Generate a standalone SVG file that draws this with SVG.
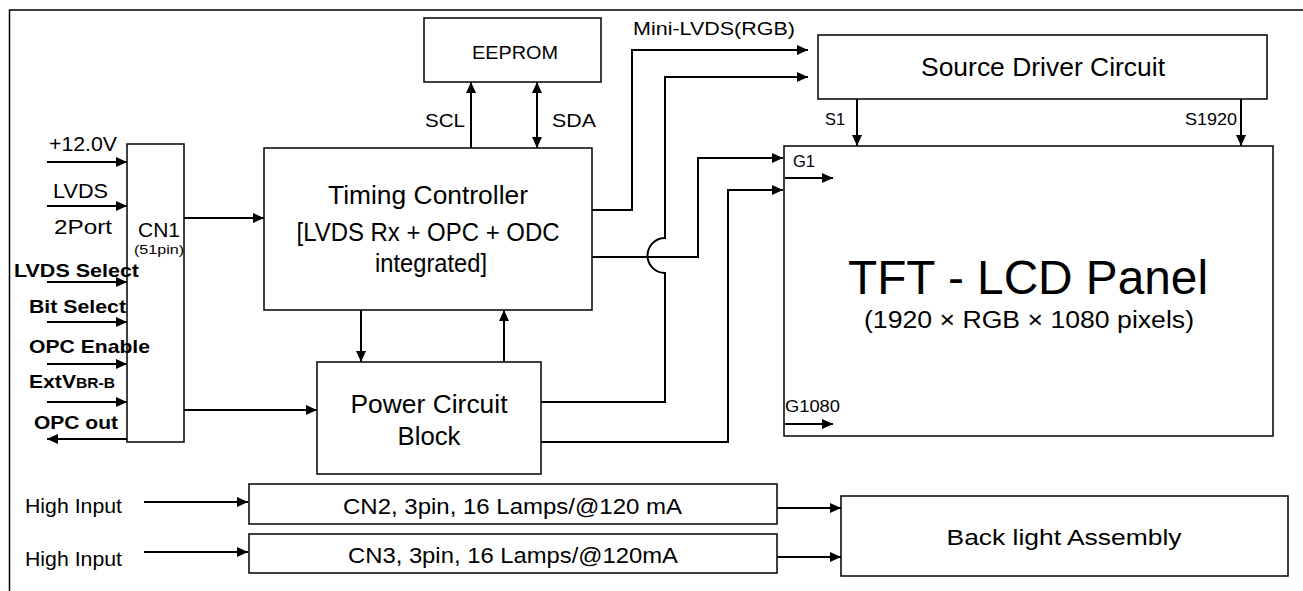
<svg xmlns="http://www.w3.org/2000/svg" width="1303" height="591" viewBox="0 0 1303 591">
<style>
  text { font-family: "Liberation Sans", Arial, sans-serif; fill: #000; }
  .box { fill: #fff; stroke: #000; stroke-width: 1.5; }
  .wire { fill: none; stroke: #000; stroke-width: 2; }
  .frame { fill: none; stroke: #000; stroke-width: 1.5; }
  .b { font-weight: bold; font-size: 19px; }
</style>
<defs>
  <marker id="ah" markerUnits="userSpaceOnUse" markerWidth="12" markerHeight="10" refX="11" refY="5" orient="auto">
    <path d="M0,0 L11,5 L0,10 Z" fill="#000"/>
  </marker>
  <marker id="ahs" markerUnits="userSpaceOnUse" markerWidth="12" markerHeight="10" refX="0" refY="5" orient="auto">
    <path d="M11,0 L0,5 L11,10 Z" fill="#000"/>
  </marker>
</defs>
<rect width="1303" height="591" fill="#fff"/>
<path class="frame" d="M9.5,591 V10 H1303"/>

<g id="connectors">
  <path class="wire" marker-end="url(#ah)" d="M47,162 H127"/>
  <path class="wire" marker-end="url(#ah)" d="M47,206 H127"/>
  <path class="wire" marker-end="url(#ah)" d="M47,282 H127"/>
  <path class="wire" marker-end="url(#ah)" d="M47,322 H127"/>
  <path class="wire" marker-end="url(#ah)" d="M47,364 H127"/>
  <path class="wire" marker-end="url(#ah)" d="M47,402 H127"/>
  <path class="wire" marker-end="url(#ah)" d="M127,439 H47"/>
  <path class="wire" marker-end="url(#ah)" d="M184,218 H264"/>
  <path class="wire" marker-end="url(#ah)" d="M184,410 H317"/>
  <path class="wire" marker-end="url(#ah)" d="M361,310 V362"/>
  <path class="wire" marker-end="url(#ah)" d="M504,362 V310"/>
  <path class="wire" marker-end="url(#ah)" d="M471,148 V82"/>
  <path class="wire" marker-start="url(#ahs)" marker-end="url(#ah)" d="M537,82 V148"/>
  <path class="wire" marker-end="url(#ah)" d="M592,210 H632 V50 H808"/>
  <path class="wire" marker-end="url(#ah)" d="M541,402 H665 V273 A17.5,17.5 0 0 1 665,238 V77 H808"/>
  <path class="wire" marker-end="url(#ah)" d="M592,257 H698 V158 H783"/>
  <path class="wire" marker-end="url(#ah)" d="M541,442 H728 V190 H783"/>
  <path class="wire" marker-end="url(#ah)" d="M857,99 V146"/>
  <path class="wire" marker-end="url(#ah)" d="M1241,99 V146"/>
  <path class="wire" marker-end="url(#ah)" d="M785,178 H833"/>
  <path class="wire" marker-end="url(#ah)" d="M785,424 H833"/>
  <path class="wire" marker-end="url(#ah)" d="M144,502 H248"/>
  <path class="wire" marker-end="url(#ah)" d="M144,552 H248"/>
  <path class="wire" marker-end="url(#ah)" d="M777,508 H841"/>
  <path class="wire" marker-end="url(#ah)" d="M777,557 H841"/>
</g>

<g id="inputs">
  <text x="49" y="151" font-size="20" textLength="68" lengthAdjust="spacingAndGlyphs">+12.0V</text>
  <text x="53" y="198" font-size="20" textLength="55" lengthAdjust="spacingAndGlyphs">LVDS</text>
  <text x="54" y="234" font-size="20" textLength="58" lengthAdjust="spacingAndGlyphs">2Port</text>
</g>

<g id="cn1">
  <rect class="box" x="127" y="144" width="57" height="298"/>
  <text x="159" y="237" font-size="20" text-anchor="middle" textLength="42" lengthAdjust="spacingAndGlyphs">CN1</text>
  <text x="159" y="254" font-size="12.5" text-anchor="middle" textLength="50" lengthAdjust="spacingAndGlyphs">(51pin)</text>
</g>

<g id="control-labels">
  <text class="b" x="14" y="277" textLength="125" lengthAdjust="spacingAndGlyphs">LVDS Select</text>
  <text class="b" x="29" y="313" textLength="97" lengthAdjust="spacingAndGlyphs">Bit Select</text>
  <text class="b" x="29" y="353" textLength="121" lengthAdjust="spacingAndGlyphs">OPC Enable</text>
  <text class="b" x="29" y="388" textLength="86" lengthAdjust="spacingAndGlyphs">ExtV<tspan font-size="14">BR-B</tspan></text>
  <text class="b" x="34" y="429" textLength="84" lengthAdjust="spacingAndGlyphs">OPC out</text>
</g>

<g id="eeprom">
  <rect class="box" x="424" y="18" width="177" height="64"/>
  <text x="515" y="59" font-size="19" text-anchor="middle" textLength="86" lengthAdjust="spacingAndGlyphs">EEPROM</text>
</g>

<g id="bus-labels">
  <text x="425" y="127" font-size="19" textLength="40" lengthAdjust="spacingAndGlyphs">SCL</text>
  <text x="552" y="127" font-size="19" textLength="44" lengthAdjust="spacingAndGlyphs">SDA</text>
  <text x="633" y="35" font-size="19" textLength="162" lengthAdjust="spacingAndGlyphs">Mini-LVDS(RGB)</text>
</g>

<g id="timing-controller">
  <rect class="box" x="264" y="148" width="328" height="162"/>
  <text x="428" y="204" font-size="25" text-anchor="middle" textLength="200" lengthAdjust="spacingAndGlyphs">Timing Controller</text>
  <text x="428" y="241" font-size="25" text-anchor="middle" textLength="263" lengthAdjust="spacingAndGlyphs">[LVDS Rx + OPC + ODC</text>
  <text x="431" y="272" font-size="25" text-anchor="middle" textLength="112" lengthAdjust="spacingAndGlyphs">integrated]</text>
</g>

<g id="power-circuit">
  <rect class="box" x="317" y="362" width="224" height="112"/>
  <text x="429" y="413" font-size="25" text-anchor="middle" textLength="157" lengthAdjust="spacingAndGlyphs">Power Circuit</text>
  <text x="429" y="445" font-size="25" text-anchor="middle" textLength="63" lengthAdjust="spacingAndGlyphs">Block</text>
</g>

<g id="source-driver">
  <rect class="box" x="818" y="35" width="449" height="64"/>
  <text x="1043" y="76" font-size="26" text-anchor="middle" textLength="244" lengthAdjust="spacingAndGlyphs">Source Driver Circuit</text>
  <text x="825" y="125" font-size="17" textLength="20" lengthAdjust="spacingAndGlyphs">S1</text>
  <text x="1185" y="125" font-size="17" textLength="52" lengthAdjust="spacingAndGlyphs">S1920</text>
</g>

<g id="tft-panel">
  <rect class="box" x="784" y="146" width="489" height="290" fill-opacity="0"/>
  <text x="793" y="167" font-size="17" textLength="22" lengthAdjust="spacingAndGlyphs">G1</text>
  <text x="785" y="412" font-size="17" textLength="55" lengthAdjust="spacingAndGlyphs">G1080</text>
  <text x="1028" y="294" font-size="48" text-anchor="middle" textLength="360" lengthAdjust="spacingAndGlyphs">TFT - LCD Panel</text>
  <text x="1029" y="328" font-size="23" text-anchor="middle" textLength="330" lengthAdjust="spacingAndGlyphs">(1920 × RGB × 1080 pixels)</text>
</g>

<g id="high-inputs">
  <text x="25" y="513" font-size="20" textLength="97" lengthAdjust="spacingAndGlyphs">High Input</text>
  <text x="25" y="566" font-size="20" textLength="97" lengthAdjust="spacingAndGlyphs">High Input</text>
</g>

<g id="cn2">
  <rect class="box" x="249" y="484" width="528" height="40"/>
  <text x="343" y="514" font-size="22" textLength="339" lengthAdjust="spacingAndGlyphs">CN2, 3pin, 16 Lamps/@120 mA</text>
</g>

<g id="cn3">
  <rect class="box" x="249" y="534" width="528" height="39"/>
  <text x="348" y="563" font-size="22" textLength="330" lengthAdjust="spacingAndGlyphs">CN3, 3pin, 16 Lamps/@120mA</text>
</g>

<g id="backlight">
  <rect class="box" x="841" y="496" width="447" height="80"/>
  <text x="1064" y="545" font-size="22" text-anchor="middle" textLength="235" lengthAdjust="spacingAndGlyphs">Back light Assembly</text>
</g>
</svg>
